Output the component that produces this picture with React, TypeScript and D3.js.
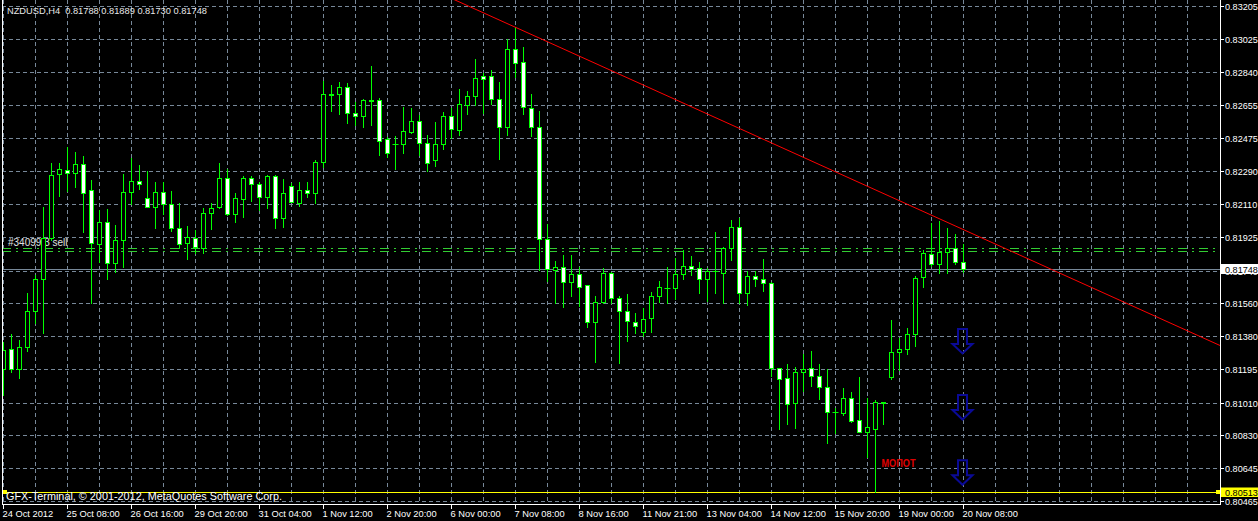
import React from 'react';
import * as d3 from 'd3';

// NZDUSD H4 bars, prices in points (1e-5)
const OPEN_PTS = [
  81194, 81305, 81194, 81316, 81518, 81692, 81919, 82273, 82299, 82279,
  82329, 82185, 81886, 82008, 81781, 81908, 82174, 82236, 82140, 82092,
  82174, 82107, 81974, 81891, 81919, 81867, 82057, 82091, 82251, 82052,
  82135, 82251, 82220, 82149, 82264, 82033, 82208, 82116, 82185, 82168,
  82343, 82716, 82718, 82755, 82611, 82594, 82681, 82685, 82469, 82443,
  82441, 82507, 82568, 82445, 82351, 82439, 82594, 82520, 82658, 82705,
  82817, 82817, 82688, 82533, 82965, 82893, 82639, 82533, 81913, 81744,
  81762, 81679, 81720, 81659, 81457, 81568, 81725, 81587, 81515, 81457,
  81402, 81476, 81601, 81644, 81642, 81720, 81764, 81753, 81692, 81736,
  81729, 81864, 81980, 81615, 81712, 81692, 81670, 81200, 81144, 81006,
  81177, 81200, 81155, 81094, 80958, 80950, 81033, 80912, 80849, 80865,
  81009, 81153, 81288, 81305, 81388, 81703, 81832, 81775, 81842, 81867,
  81788,
];
const HIGH_PTS = [
  81347, 81389, 81356, 81615, 81716, 82094, 82334, 82337, 82426, 82395,
  82374, 82242, 82076, 82080, 81993, 82275, 82362, 82325, 82292, 82231,
  82229, 82181, 82113, 81987, 81965, 82085, 82113, 82334, 82301, 82168,
  82265, 82265, 82232, 82269, 82269, 82247, 82223, 82229, 82229, 82352,
  82791, 82768, 82784, 82777, 82672, 82690, 82873, 82694, 82478, 82485,
  82644, 82639, 82602, 82491, 82564, 82616, 82639, 82745, 82734, 82910,
  82832, 82851, 82784, 83021, 83087, 82976, 82718, 82625, 81997, 81795,
  81827, 81827, 81762, 81659, 81600, 81756, 81731, 81600, 81611, 81507,
  81532, 81623, 81683, 81759, 81808, 81854, 81821, 81788, 81753, 81954,
  81873, 82020, 82030, 81738, 81738, 81803, 81679, 81200, 81223, 81208,
  81279, 81295, 81223, 81194, 80978, 81089, 81070, 81153, 81033, 81024,
  81015, 81467, 81366, 81424, 81712, 81854, 82002, 82016, 81974, 81943,
  81889,
];
const LOW_PTS = [
  81052, 81181, 81144, 81297, 81449, 81393, 81910, 82155, 82182, 82201,
  81956, 81559, 81786, 81692, 81734, 81762, 82109, 82190, 82090, 81976,
  82052, 81961, 81864, 81804, 81839, 81839, 81970, 82085, 82048, 82011,
  82039, 82125, 82076, 82088, 81978, 81983, 82118, 82100, 82149, 82113,
  82315, 82625, 82605, 82556, 82546, 82533, 82546, 82380, 82371, 82303,
  82393, 82504, 82380, 82292, 82321, 82413, 82476, 82491, 82607, 82655,
  82614, 82662, 82360, 82491, 82813, 82607, 82485, 81744, 81684, 81559,
  81540, 81600, 81546, 81430, 81236, 81563, 81559, 81227, 81352, 81397,
  81378, 81402, 81568, 81563, 81585, 81695, 81716, 81618, 81572, 81618,
  81563, 81799, 81563, 81550, 81655, 81629, 81157, 80864, 80891, 80869,
  81076, 81103, 81030, 80788, 80843, 80941, 80904, 80845, 80710, 80513,
  80891, 81140, 81190, 81279, 81325, 81651, 81767, 81729, 81729, 81775,
  81730,
];
const CLOSE_PTS = [
  81301, 81194, 81316, 81517, 81692, 81919, 82268, 82301, 82279, 82329,
  82171, 81891, 82008, 81781, 81908, 82174, 82236, 82218, 82092, 82174,
  82107, 81974, 81886, 81925, 81873, 82057, 82085, 82251, 82052, 82140,
  82251, 82218, 82149, 82264, 82033, 82168, 82122, 82185, 82168, 82343,
  82716, 82714, 82755, 82611, 82594, 82685, 82685, 82459, 82393, 82441,
  82511, 82568, 82445, 82337, 82439, 82594, 82526, 82661, 82705, 82805,
  82802, 82688, 82533, 82965, 82891, 82644, 82533, 81913, 81747, 81762,
  81679, 81720, 81651, 81457, 81568, 81725, 81587, 81515, 81463, 81435,
  81471, 81601, 81648, 81646, 81720, 81764, 81751, 81692, 81738, 81738,
  81864, 81980, 81615, 81709, 81692, 81670, 81200, 81139, 81000, 81177,
  81194, 81159, 81098, 80956, 80956, 81033, 80909, 80849, 80873, 81013,
  81011, 81288, 81305, 81388, 81698, 81836, 81775, 81842, 81867, 81786,
  81748,
];

const TIME_LABELS = [
  '24 Oct 2012', '25 Oct 08:00', '26 Oct 16:00', '29 Oct 20:00', '31 Oct 04:00',
  '1 Nov 12:00', '2 Nov 20:00', '6 Nov 00:00', '7 Nov 08:00', '8 Nov 16:00',
  '11 Nov 21:00', '13 Nov 04:00', '14 Nov 12:00', '15 Nov 20:00', '19 Nov 00:00',
  '20 Nov 08:00',
];
const PRICE_TICKS = [
  0.83205, 0.83025, 0.8284, 0.82655, 0.82475, 0.8229, 0.8211, 0.81925,
  0.8174, 0.8156, 0.8138, 0.81195, 0.8101, 0.8083, 0.80645, 0.80465,
];

const BID = 0.81748;
const LOW_LINE = 0.80513;
const ORDER_PRICES = [0.81864, 0.81849];
const TREND: [number, number][] = [[64, 0.83087], [118, 0.82007]];
const ARROW_BAR = 120;
const ARROW_PRICES = [0.81423, 0.81057, 0.80696];
const HAMMER_BAR = 110;
const HAMMER_PRICE = 0.80703;

const toPrice = (p: number) => p / 100000;
const bars = OPEN_PTS.map((o, i) => ({
  o: toPrice(o), h: toPrice(HIGH_PTS[i]), l: toPrice(LOW_PTS[i]), c: toPrice(CLOSE_PTS[i]),
}));

const W = 1258;
const H = 521;
const plot = { left: 2, right: 1220, top: 0, bottom: 504 };
const FONT = '"Liberation Sans", Arial, sans-serif';
const GRID = '#778899';
const LIME = '#00ff00';
const AXIS_FS = 9.1;

const x = d3.scaleLinear().domain([0, 1]).range([3.5, 11.5]);
const y = d3.scaleLinear().domain([0.80465, 0.83205]).range([501, 6]);
const py = (p: number) => Math.round(y(p)) + 0.5;

const App: React.FC = () => {
  const vGrid = d3.range(0, 38).map(k => x(k * 4));
  // trend line extended across plot
  const [a, b] = TREND;
  const x1 = x(a[0]), y1 = y(a[1]), x2 = x(b[0]), y2 = y(b[1]);
  const slope = (y2 - y1) / (x2 - x1);
  const tx0 = plot.left, ty0 = y1 + slope * (tx0 - x1);
  const tx1 = plot.right, ty1 = y1 + slope * (tx1 - x1);

  const arrowPath = (cx: number, top: number) => {
    const t = top + 1;
    const s = t + 15;
    const tip = top + 25.5;
    return `M${cx - 4.5},${t}L${cx + 4.5},${t}L${cx + 4.5},${s}L${cx + 10},${s}L${cx},${tip}L${cx - 10},${s}L${cx - 4.5},${s}Z`;
  };

  return (
    <svg width={W} height={H} style={{ position: 'absolute', left: 0, top: 0, display: 'block' }}
      fontFamily={FONT}>
      <defs>
        <clipPath id="plotClip">
          <rect x={plot.left} y={plot.top} width={plot.right - plot.left} height={plot.bottom - plot.top} />
        </clipPath>
      </defs>
      <rect width={W} height={H} fill="#000" />

      <g clipPath="url(#plotClip)">
        {/* grid */}
        {PRICE_TICKS.map(p => (
          <line key={'h' + p} x1={plot.left} x2={plot.right} y1={py(p)} y2={py(p)}
            stroke={GRID} strokeDasharray="4,3" />
        ))}
        {vGrid.map(v => (
          <line key={'v' + v} x1={v} x2={v} y1={plot.top} y2={plot.bottom}
            stroke={GRID} strokeDasharray="4,3" />
        ))}

        {/* order lines */}
        {ORDER_PRICES.map(p => (
          <line key={'o' + p} x1={plot.left} x2={plot.right} y1={py(p)} y2={py(p)}
            stroke="#32cd32" strokeDasharray="9,5,2,5" />
        ))}
        <text x={8} y={246} fontSize={10} fill="#e0e0e0">#34099 3 sell</text>

        {/* bid line */}
        <line x1={plot.left} x2={plot.right} y1={py(BID)} y2={py(BID)} stroke={GRID} />
        {/* low line */}
        <line x1={plot.left} x2={plot.right} y1={py(LOW_LINE)} y2={py(LOW_LINE)} stroke="#ffff00" />

        {/* candles */}
        {bars.map((d, i) => {
          const cx = x(i);
          const top = Math.round(y(Math.max(d.o, d.c)));
          const bot = Math.round(y(Math.min(d.o, d.c)));
          const bear = d.c < d.o;
          return (
            <g key={i}>
              <line x1={cx} x2={cx} y1={Math.round(y(d.h))} y2={Math.round(y(d.l)) + 1} stroke={LIME} />
              {bot - top < 1 ? (
                <line x1={cx - 3} x2={cx + 3} y1={top + 0.5} y2={top + 0.5} stroke={LIME} />
              ) : (
                <rect x={cx - 2} y={top + 0.5} width={4} height={bot - top}
                  fill={bear ? '#ffffff' : '#000000'} stroke={LIME} />
              )}
            </g>
          );
        })}

        {/* trend line */}
        <line x1={tx0} y1={ty0} x2={tx1} y2={ty1} stroke="#ff0000" />

        {/* arrows */}
        {ARROW_PRICES.map(p => (
          <path key={'a' + p} d={arrowPath(x(ARROW_BAR) - 1, y(p))} fill="none"
            stroke="#0a0a96" strokeWidth={2} />
        ))}
        <text x={x(HAMMER_BAR) - 2} y={y(HAMMER_PRICE) + 8.5} fontSize={11.5} fontWeight="bold"
          fill="#e00000" textLength={34} lengthAdjust="spacingAndGlyphs">МОПОТ</text>

        <rect x={3} y={py(LOW_LINE) - 2.5} width={4} height={4} fill="#ffff00" />
        <text x={6} y={499.5} fontSize={10} fill="#ffffff" textLength={276}
          lengthAdjust="spacingAndGlyphs">GFX-Terminal, © 2001-2012, MetaQuotes Software Corp.</text>
      </g>

      {/* header */}
      <text x={7} y={13.5} fontSize={9.5} fill="#e8e8e8" textLength={200} lengthAdjust="spacingAndGlyphs"
        xmlSpace="preserve">NZDUSD,H4  0.81788 0.81889 0.81730 0.81748</text>

      {/* frame */}
      <line x1={2.5} x2={2.5} y1={0} y2={plot.bottom + 0.5} stroke="#fff" />
      <line x1={plot.right + 0.5} x2={plot.right + 0.5} y1={0} y2={plot.bottom + 0.5} stroke="#fff" />
      <line x1={2} x2={plot.right + 1} y1={plot.bottom + 0.5} y2={plot.bottom + 0.5} stroke="#fff" />

      {/* price axis */}
      {PRICE_TICKS.map(p => (
        <g key={'pt' + p}>
          <line x1={plot.right + 1} x2={plot.right + 4} y1={py(p)} y2={py(p)} stroke="#fff" />
          <text x={1225} y={py(p) + 3.5} fontSize={AXIS_FS} fill="#fff">{p.toFixed(5)}</text>
        </g>
      ))}
      <rect x={plot.right + 1} y={py(BID) - 5.5} width={40} height={10} fill="#fff" />
      <text x={1225} y={py(BID) + 3} fontSize={AXIS_FS} fill="#000">{BID.toFixed(5)}</text>
      <rect x={1216} y={py(LOW_LINE) - 2.5} width={4} height={4} fill="#ffff00" />
      <rect x={plot.right + 1} y={py(LOW_LINE) - 5} width={40} height={9.5} fill="#ffff00" />
      <text x={1225} y={py(LOW_LINE) + 3} fontSize={AXIS_FS} fill="#000">{LOW_LINE.toFixed(5)}</text>

      {/* time axis */}
      {TIME_LABELS.map((t, k) => {
        const tx = x(k * 8);
        return (
          <g key={t}>
            <line x1={tx} x2={tx} y1={plot.bottom + 1} y2={plot.bottom + 5} stroke="#fff" />
            <text x={tx - 1} y={516.5} fontSize={9.3} fill="#fff">{t}</text>
          </g>
        );
      })}
    </svg>
  );
};

export default App;
